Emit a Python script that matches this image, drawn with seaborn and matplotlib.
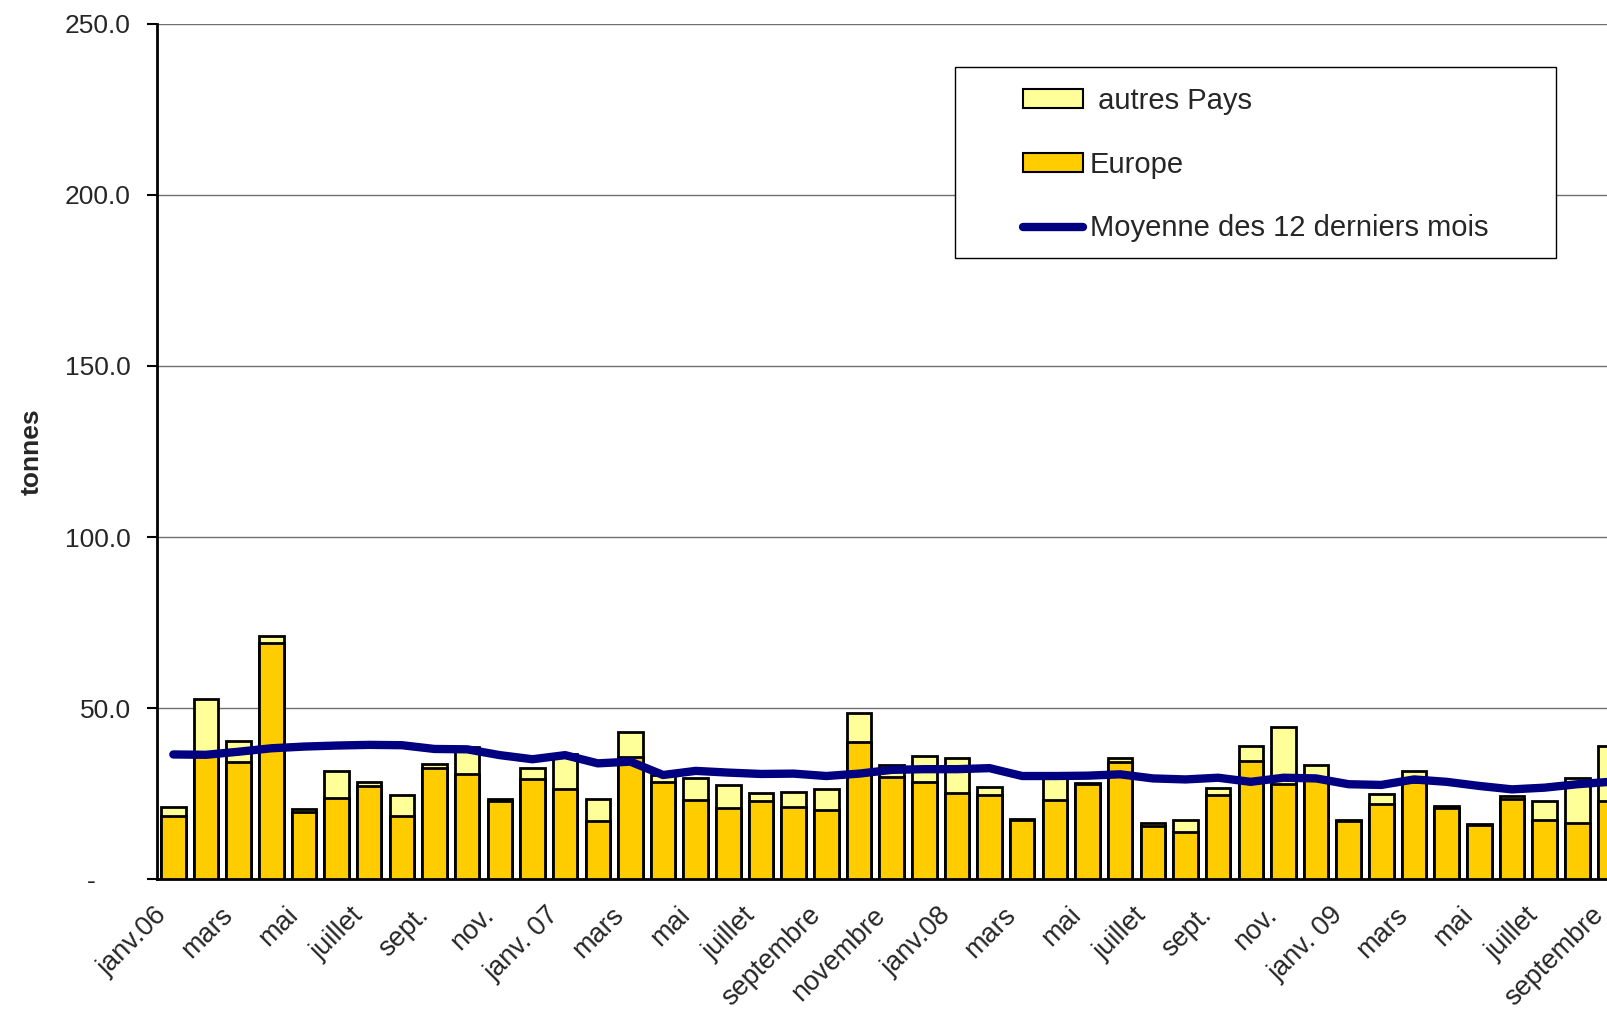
import numpy as np
import pandas as pd
import seaborn as sns
import matplotlib.pyplot as plt
from matplotlib.patches import Patch, Rectangle
from matplotlib.lines import Line2D
from matplotlib.transforms import ScaledTranslation

# monthly values, janv. 2006 -> sept. 2009 (tonnes)
mois = list(range(45))
europe = [18.6, 36.5, 34.4, 69.2, 19.7, 23.9, 27.4, 18.5, 32.6, 30.7, 22.9, 29.4,
          26.4, 17.2, 35.9, 28.5, 23.1, 20.9, 22.8, 21.1, 20.2, 40.2, 29.8, 28.5,
          25.1, 24.7, 17.4, 23.2, 28.0, 34.4, 15.5, 13.8, 24.6, 34.6, 28.0, 29.7,
          17.2, 21.9, 28.5, 21.0, 15.8, 23.5, 17.4, 16.6, 22.8]
autres_pays = [2.5, 16.2, 6.1, 1.9, 0.8, 7.9, 1.1, 6.1, 1.2, 8.1, 0.5, 3.1,
               10.1, 6.4, 7.1, 2.0, 6.4, 6.6, 2.4, 4.5, 6.1, 8.3, 3.6, 7.5,
               10.3, 2.3, 0.2, 7.3, 0.3, 1.0, 1.1, 3.6, 2.2, 4.5, 16.6, 3.8,
               0.2, 3.0, 3.2, 0.5, 0.4, 0.8, 5.4, 13.0, 16.1]
moyenne_12 = [36.5, 36.4, 37.3, 38.3, 38.8, 39.1, 39.3, 39.2, 38.1, 38.0, 36.3, 35.1,
              36.3, 33.9, 34.4, 30.5, 31.7, 31.2, 30.8, 30.9, 30.2, 30.9, 32.0, 32.2,
              32.2, 32.5, 30.2, 30.2, 30.3, 30.7, 29.5, 29.2, 29.7, 28.5, 29.7, 29.5,
              27.8, 27.6, 29.2, 28.5, 27.3, 26.3, 26.8, 27.8, 28.5]
tick_pos = list(range(0, 45, 2))
tick_labels = ['janv.06', 'mars', 'mai', 'juillet', 'sept.', 'nov.',
               'janv. 07', 'mars', 'mai', 'juillet', 'septembre', 'novembre',
               'janv.08', 'mars', 'mai', 'juillet', 'sept.', 'nov.',
               'janv. 09', 'mars', 'mai', 'juillet', 'septembre']
y_ticks = [0, 50, 100, 150, 200, 250]
y_labels = ['-', '50.0', '100.0', '150.0', '200.0', '250.0']

df = pd.DataFrame({'mois': mois, 'europe': europe, 'autres': autres_pays,
                   'moyenne': moyenne_12})
df['total'] = df['europe'] + df['autres']

sns.set_style('white')
plt.rcParams['font.family'] = ['Liberation Sans', 'DejaVu Sans']

fig = plt.figure(figsize=(16.07, 10.14), dpi=100)
# plot area runs past the right edge of the picture (cropped chart)
ax = fig.add_axes([157 / 1607, 134.6 / 1014, 48 * 32.65 / 1607, 855.8 / 1014])

sns.barplot(data=df, x='mois', y='total', color='#FFFF99', saturation=1, width=0.75,
            edgecolor='black', linewidth=2, ax=ax, zorder=2)
sns.barplot(data=df, x='mois', y='europe', color='#FFCC00', saturation=1, width=0.75,
            edgecolor='black', linewidth=2, ax=ax, zorder=3)
sns.lineplot(data=df, x='mois', y='moyenne', color='#000080', lw=6, ax=ax, zorder=4,
             solid_capstyle='round', solid_joinstyle='round')

ax.set_xlim(-0.5, 47.5)
ax.set_ylim(0, 250)
ax.set_yticks(y_ticks, labels=y_labels)
ax.yaxis.grid(True, color='#707070', lw=1)
ax.xaxis.grid(False)
ax.set_axisbelow(True)
for s in ['top', 'right']:
    ax.spines[s].set_visible(False)
for s in ['left', 'bottom']:
    ax.spines[s].set_color('black')
    ax.spines[s].set_linewidth(2)

ax.set_xticks(tick_pos)
ax.set_xticklabels(tick_labels, rotation=45, ha='right', va='center', rotation_mode='anchor')
ax.set_xticks(np.arange(-0.5, 48, 1), minor=True)
ax.tick_params(axis='x', which='major', length=0, pad=23, labelsize=19.5)
ax.tick_params(axis='x', which='minor', length=8, width=1.5, color='black', direction='out')
ax.tick_params(axis='y', length=7, width=1.5, color='black', direction='out', pad=12, labelsize=19)
ax.tick_params(axis='both', bottom=True, left=True)

shift = ScaledTranslation(-0.10, 0, fig.dpi_scale_trans)
for t in ax.xaxis.get_major_ticks():
    t.label1.set_transform(t.label1.get_transform() + shift)

zero_lab = ax.yaxis.get_major_ticks()[0].label1
zero_lab.set_transform(zero_lab.get_transform() + ScaledTranslation(-0.35, 0, fig.dpi_scale_trans))

ax.set_xlabel('')
ax.set_ylabel('tonnes', fontsize=19, fontweight='bold')
ax.yaxis.set_label_coords(-0.0726, 0.5)

# legend box
fig.add_artist(Rectangle((955 / 1607, 1 - 258 / 1014), (1556 - 955) / 1607, (258 - 66.6) / 1014,
                         transform=fig.transFigure, facecolor='white', edgecolor='black',
                         lw=1, zorder=3))
handles = [Patch(facecolor='#FFFF99', edgecolor='black', lw=1.5),
           Patch(facecolor='#FFCC00', edgecolor='black', lw=1.5),
           Line2D([], [], color='#000080', lw=6, solid_capstyle='round')]
labels = [' autres Pays', 'Europe', 'Moyenne des 12 derniers mois']
fig.legend(handles, labels, loc='upper left', bbox_to_anchor=(1023 / 1607, 0.9145),
           frameon=False, fontsize=21, borderpad=0, borderaxespad=0, labelspacing=1.23,
           handlelength=2.05, handleheight=0.63, handletextpad=0.24)

fig.savefig('out.png', dpi=100)
